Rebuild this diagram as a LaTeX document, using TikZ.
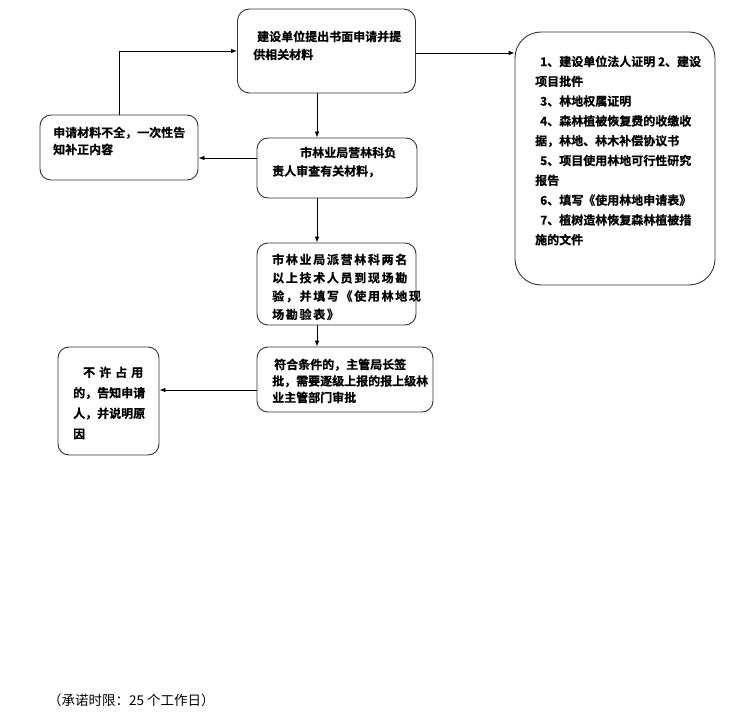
\documentclass[tikz,border=0pt]{standalone}
\usepackage{fontspec}
\usepackage{tikz}
\usetikzlibrary{arrows.meta}
\newfontfamily\cjkbf{Noto Sans CJK SC Bold}[FakeBold=0.6]
\newfontfamily\cjkwide{Noto Sans CJK SC Bold}[LetterSpace=14,FakeBold=0.6]
\newfontfamily\cjkreg{Noto Sans CJK SC}
\tikzset{
flowbox/.style={
  draw=black!80,
  line width=0.9pt,
  rounded corners=#1,
  inner sep=0pt
},
flowbox/.default=11pt,
txt/.style={
  anchor=north west,
  inner sep=0pt,
  align=left,
  font=\cjkbf\fontsize{12}{#1}\selectfont
},
txt/.default=18pt,
arr/.style={-{Latex[length=6pt,width=4.5pt]}, line width=0.7pt}
}

\begin{document}
\begin{tikzpicture}[x=1pt,y=-1pt]
\useasboundingbox (0,0) rectangle (731,722);
% the boxes
\node[flowbox=12pt, minimum width=178pt, minimum height=84pt] (apply) at (326.5,51) {};
\node[flowbox=26pt, minimum width=200pt, minimum height=253pt] (docs) at (615,158.5) {};
\node[flowbox, minimum width=158pt, minimum height=65pt] (supply) at (119,147.5) {};
\node[flowbox, minimum width=160pt, minimum height=60pt] (review) at (337,168) {};
\node[flowbox, minimum width=159pt, minimum height=82pt] (survey) at (336.5,284) {};
\node[flowbox, minimum width=176pt, minimum height=65pt] (approve) at (345,379.5) {};
\node[flowbox, minimum width=101pt, minimum height=108pt] (refuse) at (108.5,401) {};

% the texts
\node[txt] (applytxt) at (253,30.5) {\hspace*{4pt}建设单位提出书面申请并提\\供相关材料};
\node[txt=19.8pt] (docstxt) at (535,55.5) {%
  \hspace*{5pt}1、建设单位法人证明 2、建设\\
  项目批件\\
  \hspace*{5pt}3、林地权属证明\\
  \hspace*{5pt}4、森林植被恢复费的收缴收\\
  据，林地、林木补偿协议书\\
  \hspace*{5pt}5、项目使用林地可行性研究\\
  报告\\
  \hspace*{5pt}6、填写《使用林地申请表》\\
  \hspace*{5pt}7、植树造林恢复森林植被措\\
  施的文件};
\node[txt=17pt] (supplytxt) at (53,126.5) {申请材料不全，一次性告\\知补正内容};
\node[txt=18.5pt] (reviewtxt) at (272,146.5) {\hspace*{28pt}市林业局营林科负\\责人审查有关材料，};
\node[txt=18.3pt, font=\cjkwide\fontsize{12}{18.3pt}\selectfont] (surveytxt) at (272,253.5)
  {市林业局派营林科两名\\以上技术人员到现场勘\\验，并填写《使用林地现\\场勘验表》};
\node[txt=16.5pt] (approvetxt) at (272,358.5) {\hspace*{2pt}符合条件的，主管局长签\\批，需要逐级上报的报上级林\\业主管部门审批};
\node[txt=20.5pt] (refusetxt) at (73,366.5) {\hspace*{10pt}不\hspace{4pt}许\hspace{4pt}占\hspace{4pt}用\\的，告知申请\\人，并说明原\\因};

\node[anchor=west, inner sep=0pt, font=\cjkreg\fontsize{13.5}{16}\selectfont] (limit) at (48,700)
  {（承诺时限：25 个工作日）};

% the arrows
\coordinate (spine) at (317,0);
\coordinate (leftrow) at (0,158);
\coordinate (lowrow) at (0,390);
\draw[arr] (apply.east |- 0,53) -- (docs.west |- 0,53);
\draw[arr] (supply.north) |- (apply.west);
\foreach \a/\b in {apply/review,review/survey,survey/approve}
{
  \draw[arr] (\a.south -| spine) -- (\b.north -| spine);
}
\draw[arr] (review.west |- leftrow) -- (supply.east |- leftrow);
\draw[arr] (approve.west |- lowrow) -- (refuse.east |- lowrow);
\end{tikzpicture}
\end{document}
